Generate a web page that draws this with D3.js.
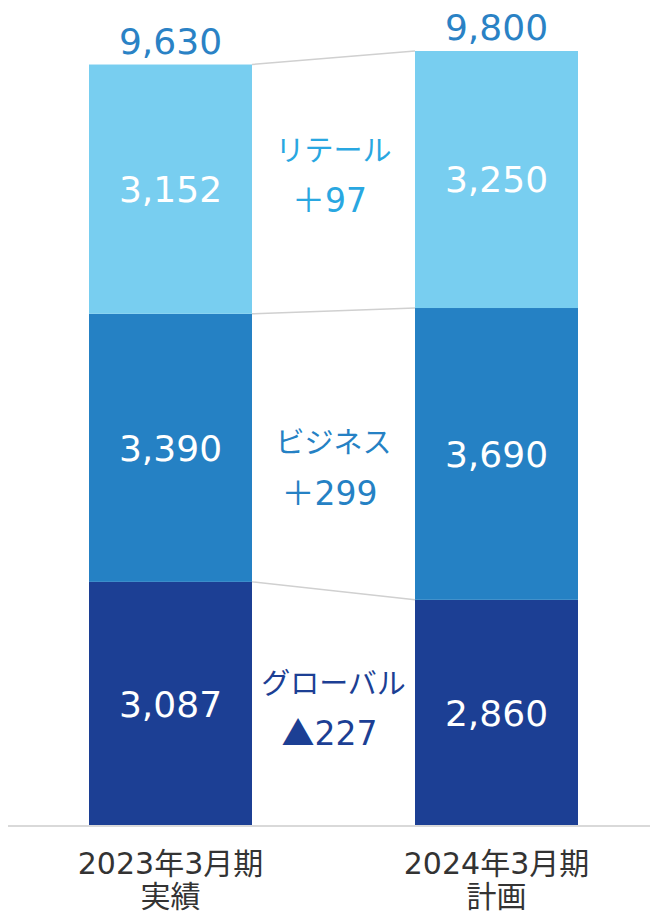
<!DOCTYPE html>
<html>
<head>
<meta charset="utf-8">
<script src="https://cdn.jsdelivr.net/npm/d3@7"></script>
<style>
  body { margin: 0; background: #fff; }
  text { font-family: "DejaVu Sans", "Noto Sans CJK JP", sans-serif; }
</style>
</head>
<body>
<div id="chart"></div>
<script>
// periods on the x axis (two lines each)
const periods = ["2023年3月期", "2024年3月期"];
const periodSub = ["実績", "計画"];
// segments, bottom to top
const segments = ["グローバル", "ビジネス", "リテール"];
const values2023 = [3087, 3390, 3152];
const values2024 = [2860, 3690, 3250];
const totals = [9630, 9800]; // as printed (rounded)
const diffSigns = ["▲", "＋", "＋"];
const diffValues = [227, 299, 97];

const colors = ["#1c3f94", "#2581c4", "#78cef0"];
const labelColors = ["#1c3f94", "#2581c4", "#29a7e1"];

const width = 656, height = 913;
const baseline = 826;

const svg = d3.select("#chart").append("svg")
  .attr("width", width).attr("height", height);

const x = d3.scaleBand().domain(periods).range([89, 578]).paddingInner(0.5).paddingOuter(0);
const y = d3.scaleLinear().domain([0, 9800]).range([baseline, 51]);

// build stacked data
const rows = periods.map((p, i) => {
  const obj = {period: p, total: totals[i]};
  const vals = i === 0 ? values2023 : values2024;
  segments.forEach((s, j) => obj[s] = vals[j]);
  return obj;
});
const stack = d3.stack().keys(segments)(rows);
const topLayer = stack[stack.length - 1];

const g = svg.append("g");
const lx1 = x(periods[0]) + x.bandwidth(), lx2 = x(periods[1]);

// connector lines between bars
stack.forEach(layer => {
  g.append("line")
    .attr("x1", lx1).attr("x2", lx2)
    .attr("y1", y(layer[0][0])).attr("y2", y(layer[1][0]))
    .attr("stroke", "#d0d0d0").attr("stroke-width", 1.5);
});
g.append("line")
  .attr("x1", lx1).attr("x2", lx2)
  .attr("y1", y(topLayer[0][1])).attr("y2", y(topLayer[1][1]))
  .attr("stroke", "#d0d0d0").attr("stroke-width", 1.5);

// bars + values
stack.forEach((layer, j) => {
  g.selectAll(null).data(layer).join("rect")
    .attr("x", d => x(d.data.period))
    .attr("width", x.bandwidth())
    .attr("y", d => y(d[1]))
    .attr("height", d => y(d[0]) - y(d[1]))
    .attr("fill", colors[j]);

  g.selectAll(null).data(layer).join("text")
    .attr("x", d => x(d.data.period) + x.bandwidth() / 2)
    .attr("y", d => (y(d[0]) + y(d[1])) / 2)
    .attr("dy", "0.36em")
    .attr("text-anchor", "middle")
    .attr("fill", "#fff")
    .attr("font-size", 36)
    .text(d => d3.format(",")(d[1] - d[0]));
});

// totals
g.selectAll(null).data(topLayer).join("text")
  .attr("x", d => x(d.data.period) + x.bandwidth() / 2)
  .attr("y", d => y(d[1]) - 11)
  .attr("text-anchor", "middle")
  .attr("fill", "#2a82c5")
  .attr("font-size", 36)
  .text(d => d3.format(",")(d.data.total));

// change labels in the gap
const gapX = (lx1 + lx2) / 2;
const shift = [0, 17, -9];
stack.forEach((layer, j) => {
  const mid = ((y(layer[0][0]) + y(layer[0][1])) / 2 + (y(layer[1][0]) + y(layer[1][1])) / 2) / 2 + shift[j];
  g.append("text")
    .attr("x", gapX).attr("y", mid - 25).attr("dy", "0.36em")
    .attr("text-anchor", "middle").attr("fill", labelColors[j])
    .attr("font-size", 29)
    .text(segments[j]);
  const t = g.append("text")
    .attr("x", gapX - 4).attr("y", mid + 25).attr("dy", "0.36em")
    .attr("text-anchor", "middle").attr("fill", labelColors[j])
    .attr("font-size", 33);
  t.append("tspan").style("font-family", "'Noto Sans CJK JP'").text(diffSigns[j]);
  t.append("tspan").text(diffValues[j]);
});

// x axis
const axis = svg.append("g").attr("transform", `translate(0,${baseline})`)
  .call(d3.axisBottom(x).tickSize(0).tickFormat(""));
axis.select(".domain").attr("d", "M8,0H650").attr("stroke", "#d9d9d9").attr("stroke-width", 2);

periods.forEach((p, i) => {
  const cx = x(p) + x.bandwidth() / 2;
  const t = svg.append("text")
    .attr("text-anchor", "middle")
    .attr("fill", "#333")
    .attr("font-size", 30);
  t.append("tspan").attr("x", cx).attr("y", 874).text(p);
  t.append("tspan").attr("x", cx).attr("y", 907).text(periodSub[i]);
});
</script>
</body>
</html>
